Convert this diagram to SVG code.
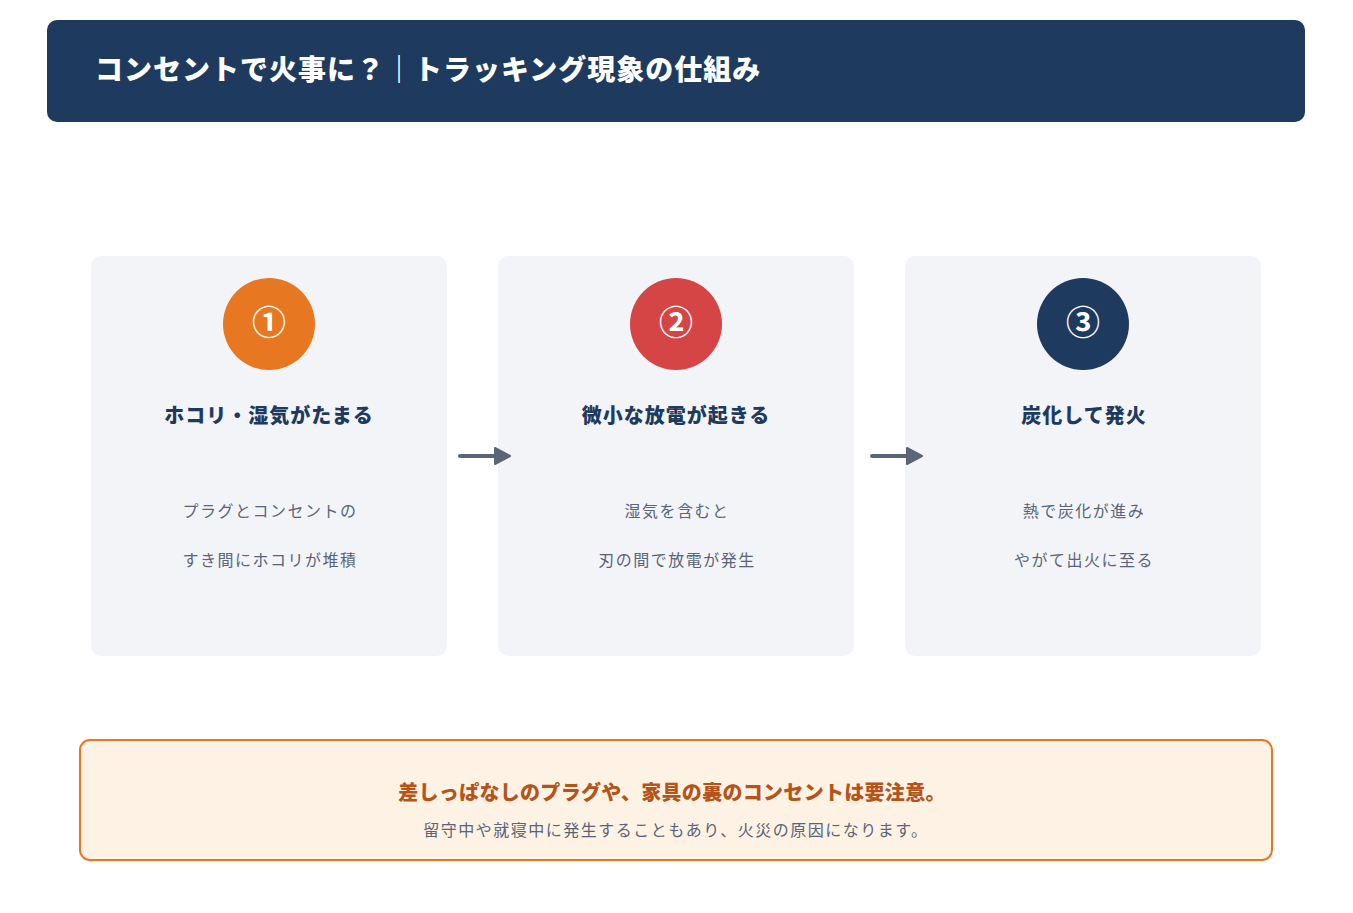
<svg xmlns="http://www.w3.org/2000/svg" width="1353" height="913" viewBox="0 0 1353 913">
<defs>
<style>
text{font-family:"Noto Sans CJK JP","Noto Sans",sans-serif;text-anchor:middle}
.card{fill:#f2f4f8}
.num{fill:#ffffff;font-size:34px;font-weight:700}
.ttl{fill:#1f3a5f;font-size:20px;font-weight:900;letter-spacing:1px}
.desc{fill:#5a6478;font-size:16px;letter-spacing:1.5px}
.conn{stroke:#5a6678;stroke-width:4;stroke-linecap:round;fill:none}
.head{fill:#5a6678;stroke:#5a6678;stroke-width:2;stroke-linejoin:round}
</style>
</defs>
<rect width="1353" height="913" fill="#ffffff"/>
<g id="header">
<rect x="47" y="20" width="1258" height="102" rx="10" fill="#1f3a5f"/>
<text x="95" y="80" style="text-anchor:start;font-size:28px;font-weight:900;fill:#ffffff;letter-spacing:1px">コンセントで火事に？｜トラッキング現象の仕組み</text>
</g>
<g id="step1">
<rect class="card" x="91" y="256" width="356" height="400" rx="10"/>
<circle cx="269" cy="324" r="46" fill="#e87722"/>
<text class="num" x="269" y="335">①</text>
<text class="ttl" x="269" y="423">ホコリ・湿気がたまる</text>
<text class="desc" x="270" y="517">プラグとコンセントの</text>
<text class="desc" x="270" y="566">すき間にホコリが堆積</text>
</g>
<g id="step2">
<rect class="card" x="498" y="256" width="356" height="400" rx="10"/>
<circle cx="676" cy="324" r="46" fill="#d64545"/>
<text class="num" x="676" y="335">②</text>
<text class="ttl" x="676" y="423">微小な放電が起きる</text>
<text class="desc" x="677" y="517">湿気を含むと</text>
<text class="desc" x="677" y="566">刃の間で放電が発生</text>
</g>
<g id="step3">
<rect class="card" x="905" y="256" width="356" height="400" rx="10"/>
<circle cx="1083" cy="324" r="46" fill="#1f3a5f"/>
<text class="num" x="1083" y="335">③</text>
<text class="ttl" x="1084" y="423">炭化して発火</text>
<text class="desc" x="1084" y="517">熱で炭化が進み</text>
<text class="desc" x="1084" y="566">やがて出火に至る</text>
</g>
<g id="connectors">
<line class="conn" x1="460" y1="456" x2="496" y2="456"/>
<polygon class="head" points="495,448 510,456 495,464"/>
<line class="conn" x1="872" y1="456" x2="908" y2="456"/>
<polygon class="head" points="907,448 922,456 907,464"/>
</g>
<g id="note">
<rect x="80" y="740" width="1192" height="120" rx="10" fill="#fef2e4" stroke="#e87722" stroke-width="2"/>
<text x="672" y="800" style="font-size:20px;font-weight:900;fill:#b5541a;letter-spacing:0.3px">差しっぱなしのプラグや、家具の裏のコンセントは要注意。</text>
<text x="676" y="836" style="font-size:16px;fill:#5a6478;letter-spacing:1.5px">留守中や就寝中に発生することもあり、火災の原因になります。</text>
</g>
</svg>
